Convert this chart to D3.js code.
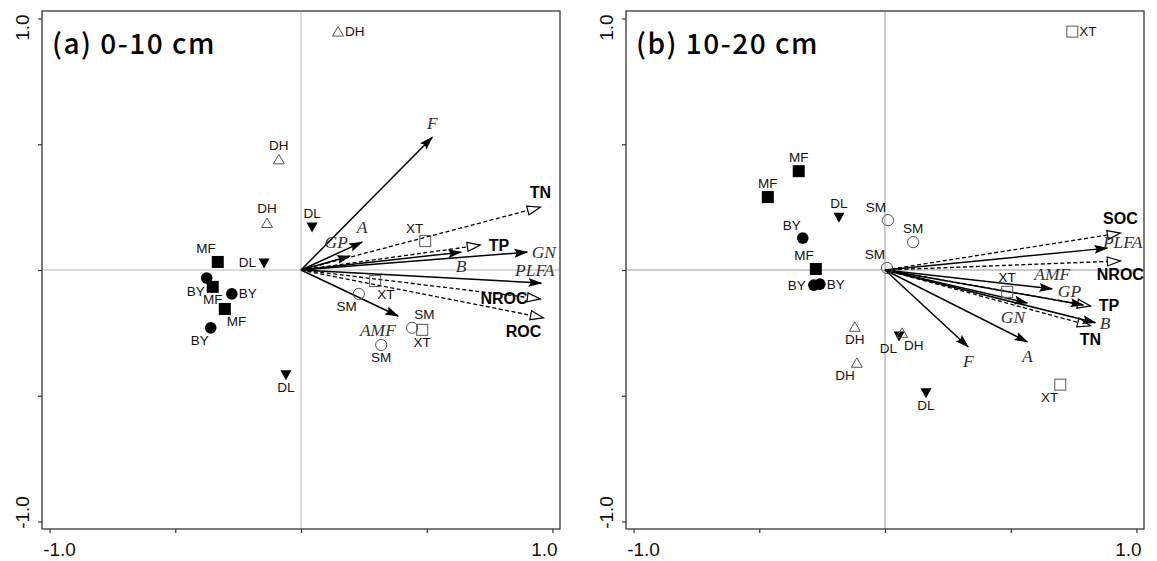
<!DOCTYPE html>
<html lang="en">
<head>
  <meta charset="UTF-8" />
  <title>RDA biplots 0-10 cm / 10-20 cm</title>
  <script src="https://d3js.org/d3.v7.min.js"></script>
  <style>
    body { margin: 0; padding: 0; background: #fff; overflow: hidden; }
    svg { display: block; }
  </style>
</head>
<body>
  <div id="viz"></div>
  <script>
    // ---- data ----
    const panelTitles = ["(a) 0-10 cm", "(b) 10-20 cm"];
    const tickValues = [-1, -0.5, 0, 0.5, 1];
    const tickLabels = ["-1.0", "", "", "", "1.0"];

    // sample scores: site, x, y, label side
    const sitesA = [
      ["DH", 0.147, 0.948, "r"], ["DH", -0.088, 0.44, "t"], ["DH", -0.135, 0.187, "t"],
      ["MF", -0.331, 0.032, "tl"], ["DL", -0.147, 0.028, "l"], ["DL", 0.044, 0.171, "t"],
      ["XT", 0.494, 0.115, "tl"], ["BY", -0.375, -0.032, "bl"], ["MF", -0.351, -0.067, "b"],
      ["BY", -0.275, -0.095, "r"], ["MF", -0.303, -0.155, "br"], ["BY", -0.359, -0.23, "bl"],
      ["DL", -0.06, -0.417, "b"], ["SM", 0.23, -0.095, "bl"], ["XT", 0.295, -0.044, "br"],
      ["SM", 0.442, -0.23, "tr"], ["XT", 0.482, -0.238, "b"], ["SM", 0.319, -0.298, "b"]
    ];
    const sitesB = [
      ["XT", 0.745, 0.948, "r"], ["MF", -0.343, 0.393, "t"], ["MF", -0.466, 0.29, "t"],
      ["DL", -0.183, 0.21, "t"], ["SM", 0.012, 0.198, "tl"], ["SM", 0.112, 0.111, "t"],
      ["BY", -0.327, 0.127, "tl"], ["MF", -0.275, 0.004, "tl"], ["SM", 0.008, 0.008, "tl"],
      ["BY", -0.283, -0.06, "l"], ["BY", -0.259, -0.056, "r"], ["DH", -0.12, -0.226, "b"],
      ["DH", -0.112, -0.369, "bl"], ["DL", 0.056, -0.262, "bl"], ["DH", 0.068, -0.25, "br"],
      ["DL", 0.163, -0.488, "b"], ["XT", 0.697, -0.456, "bl"], ["XT", 0.486, -0.087, "t"]
    ];

    // microbial response arrows (solid): name, x, y, label side
    const speciesA = [
      ["F", 0.522, 0.528, "t"], ["A", 0.243, 0.111, "t"], ["GP", 0.195, 0.056, "tl"],
      ["B", 0.637, 0.071, "b"], ["GN", 0.90, 0.071, "r"], ["PLFA", 0.956, -0.052, "tc"],
      ["AMF", 0.386, -0.183, "bl"]
    ];
    const speciesB = [
      ["PLFA", 0.884, 0.087, "on"], ["AMF", 0.665, -0.075, "t"], ["GP", 0.789, -0.139, "tl"],
      ["B", 0.837, -0.21, "r"], ["GN", 0.566, -0.131, "bl"], ["F", 0.331, -0.306, "b"],
      ["A", 0.566, -0.286, "b"]
    ];

    // soil carbon / nutrient arrows (dashed)
    const envA = [
      ["TN", 0.952, 0.25, "t"], ["TP", 0.713, 0.099, "r"],
      ["NROC", 0.952, -0.115, "l"], ["ROC", 0.964, -0.19, "bl"]
    ];
    const envB = [
      ["SOC", 0.936, 0.147, "t"], ["NROC", 0.936, 0.036, "b"],
      ["TP", 0.817, -0.143, "r"], ["TN", 0.817, -0.222, "b"]
    ];

    // ---- layout ----
    const W = 1157, H = 561;
    const size = 518, plotTop = 11;
    const lefts = [42, 626];
    const zeroColor = ["#cfcfcf", "#9a9a9a"];

    const svg = d3.select("#viz").append("svg")
      .attr("width", W).attr("height", H);

    const defs = svg.append("defs");
    defs.append("marker")
      .attr("id", "headSolid")
      .attr("markerUnits", "userSpaceOnUse")
      .attr("viewBox", "0 0 14 10")
      .attr("refX", 13).attr("refY", 5)
      .attr("markerWidth", 14).attr("markerHeight", 10)
      .attr("orient", "auto")
      .append("path")
      .attr("d", "M0,0.5 L14,5 L0,9.5 L2.5,5 Z")
      .attr("fill", "#000");
    defs.append("marker")
      .attr("id", "headOpen")
      .attr("markerUnits", "userSpaceOnUse")
      .attr("viewBox", "-1 -1 16 12")
      .attr("refX", 13.5).attr("refY", 5)
      .attr("markerWidth", 16).attr("markerHeight", 12)
      .attr("orient", "auto")
      .append("path")
      .attr("d", "M0.5,0.5 L13.5,5 L0.5,9.5 Z")
      .attr("fill", "#fff")
      .attr("stroke", "#000")
      .attr("stroke-width", 1.2);

    // label offset by side code
    const side = {
      t:  { dx: 0,  dy: -14, a: "middle" },
      b:  { dx: 0,  dy: 13,  a: "middle" },
      l:  { dx: -8, dy: 0,   a: "end" },
      r:  { dx: 4,  dy: 0,   a: "start" },
      tl: { dx: -2, dy: -13, a: "end" },
      tr: { dx: 2,  dy: -13, a: "start" },
      bl: { dx: -2, dy: 13,  a: "end" },
      br: { dx: 2,  dy: 13,  a: "start" },
      tc: { dx: -6, dy: -12, a: "middle" },
      on: { dx: -4, dy: -6,  a: "start" }
    };

    const sansFont = "'Liberation Sans', Arial, sans-serif";
    const serifFont = "'Liberation Serif', 'Times New Roman', serif";

    function symbol(g, type, cx, cy) {
      const s = 6;
      if (type === "BY") {
        g.append("circle").attr("cx", cx).attr("cy", cy).attr("r", 5.8).attr("fill", "#000");
      } else if (type === "SM") {
        g.append("circle").attr("cx", cx).attr("cy", cy).attr("r", 5.6)
          .attr("fill", "none").attr("stroke", "#555").attr("stroke-width", 1);
      } else if (type === "MF") {
        g.append("rect").attr("x", cx - s).attr("y", cy - s).attr("width", 2 * s).attr("height", 2 * s)
          .attr("fill", "#000");
      } else if (type === "XT") {
        g.append("rect").attr("x", cx - 5.5).attr("y", cy - 5.5).attr("width", 11).attr("height", 11)
          .attr("fill", "none").attr("stroke", "#555").attr("stroke-width", 1);
      } else if (type === "DL") {
        g.append("path").attr("d", `M${cx - 5.5},${cy - 4.5} L${cx + 5.5},${cy - 4.5} L${cx},${cy + 5.5} Z`)
          .attr("fill", "#000");
      } else if (type === "DH") {
        g.append("path").attr("d", `M${cx - 5.5},${cy + 4.5} L${cx + 5.5},${cy + 4.5} L${cx},${cy - 5} Z`)
          .attr("fill", "none").attr("stroke", "#555").attr("stroke-width", 1);
      }
    }

    function drawPanel(p, sites, species, env) {
      const left = lefts[p];
      const x = d3.scaleLinear().domain([-1.03, 1.03]).range([left, left + size]);
      const y = d3.scaleLinear().domain([-1.03, 1.03]).range([plotTop + size, plotTop]);
      const g = svg.append("g");

      // zero lines
      g.append("line").attr("x1", x(0)).attr("x2", x(0)).attr("y1", plotTop).attr("y2", plotTop + size)
        .attr("stroke", zeroColor[p]).attr("stroke-width", p === 0 ? 1.5 : 1);
      g.append("line").attr("x1", left).attr("x2", left + size).attr("y1", y(0)).attr("y2", y(0))
        .attr("stroke", zeroColor[p]).attr("stroke-width", p === 0 ? 1.5 : 1);

      // frame
      g.append("rect").attr("x", left).attr("y", plotTop).attr("width", size).attr("height", size)
        .attr("fill", "none").attr("stroke", "#444").attr("stroke-width", 1.4);

      // axes ticks
      const ax = g.append("g").attr("transform", `translate(0,${plotTop + size})`)
        .call(d3.axisBottom(x).tickValues(tickValues).tickSize(4).tickFormat(""));
      const ay = g.append("g").attr("transform", `translate(${left},0)`)
        .call(d3.axisLeft(y).tickValues(tickValues).tickSize(4).tickFormat(""));
      [ax, ay].forEach(a => {
        a.select(".domain").remove();
        a.selectAll(".tick line").attr("stroke", "#333").attr("stroke-width", 1.2);
      });

      // tick labels (only at ends, nudged inward)
      tickValues.forEach((v, i) => {
        if (!tickLabels[i]) return;
        const inward = v < 0 ? 10 : -8;
        g.append("text")
          .attr("x", x(v) + inward).attr("y", 556)
          .attr("text-anchor", "middle")
          .style("font-family", sansFont).style("font-size", "19px").attr("fill", "#111")
          .text(tickLabels[i]);
        const yy = y(v) - (v < 0 ? 9 : -9);
        g.append("text")
          .attr("transform", `translate(${left - 13},${yy}) rotate(-90)`)
          .attr("text-anchor", "middle")
          .style("font-family", sansFont).style("font-size", "19px").attr("fill", "#111")
          .text(tickLabels[i]);
      });

      // title
      g.append("text")
        .attr("x", left + 10).attr("y", 54)
        .style("font-family", "'Noto Sans CJK SC', 'Noto Sans', sans-serif")
        .style("font-size", "28px").style("font-weight", 500)
        .style("letter-spacing", "1.5px")
        .attr("fill", "#000")
        .text(panelTitles[p]);

      // env arrows (dashed, open heads)
      env.forEach(d => {
        g.append("line")
          .attr("x1", x(0)).attr("y1", y(0)).attr("x2", x(d[1])).attr("y2", y(d[2]))
          .attr("stroke", "#000").attr("stroke-width", 1.3)
          .attr("stroke-dasharray", "4,2.5")
          .attr("marker-end", "url(#headOpen)");
      });
      // species arrows (solid, filled heads)
      species.forEach(d => {
        g.append("line")
          .attr("x1", x(0)).attr("y1", y(0)).attr("x2", x(d[1])).attr("y2", y(d[2]))
          .attr("stroke", "#000").attr("stroke-width", 1.5)
          .attr("marker-end", "url(#headSolid)");
      });

      // sites
      sites.forEach(d => {
        const cx = x(d[1]), cy = y(d[2]);
        symbol(g, d[0], cx, cy);
        const o = side[d[3]];
        const dx = d[3] === "r" ? o.dx + 3 : o.dx;
        g.append("text")
          .attr("x", cx + dx).attr("y", cy + o.dy)
          .attr("text-anchor", o.a).attr("dominant-baseline", "central")
          .style("font-family", sansFont).style("font-size", "13.5px").attr("fill", "#111")
          .text(d[0]);
      });

      // arrow labels
      env.forEach(d => {
        const o = side[d[3]];
        const extra = d[3] === "l" ? -4 : (d[3] === "r" ? 4 : 0);
        g.append("text")
          .attr("x", x(d[1]) + o.dx * 1.1 + extra).attr("y", y(d[2]) + o.dy * 1.05)
          .attr("text-anchor", o.a).attr("dominant-baseline", "central")
          .style("font-family", sansFont).style("font-size", "16px").style("font-weight", "bold")
          .attr("fill", "#000")
          .text(d[0]);
      });
      species.forEach(d => {
        const o = side[d[3]];
        g.append("text")
          .attr("x", x(d[1]) + o.dx * 1.1).attr("y", y(d[2]) + o.dy * 1.05)
          .attr("text-anchor", o.a).attr("dominant-baseline", "central")
          .style("font-family", serifFont).style("font-size", "17.5px").style("font-style", "italic")
          .attr("fill", "#333")
          .text(d[0]);
      });
    }

    drawPanel(0, sitesA, speciesA, envA);
    drawPanel(1, sitesB, speciesB, envB);
  </script>
</body>
</html>
